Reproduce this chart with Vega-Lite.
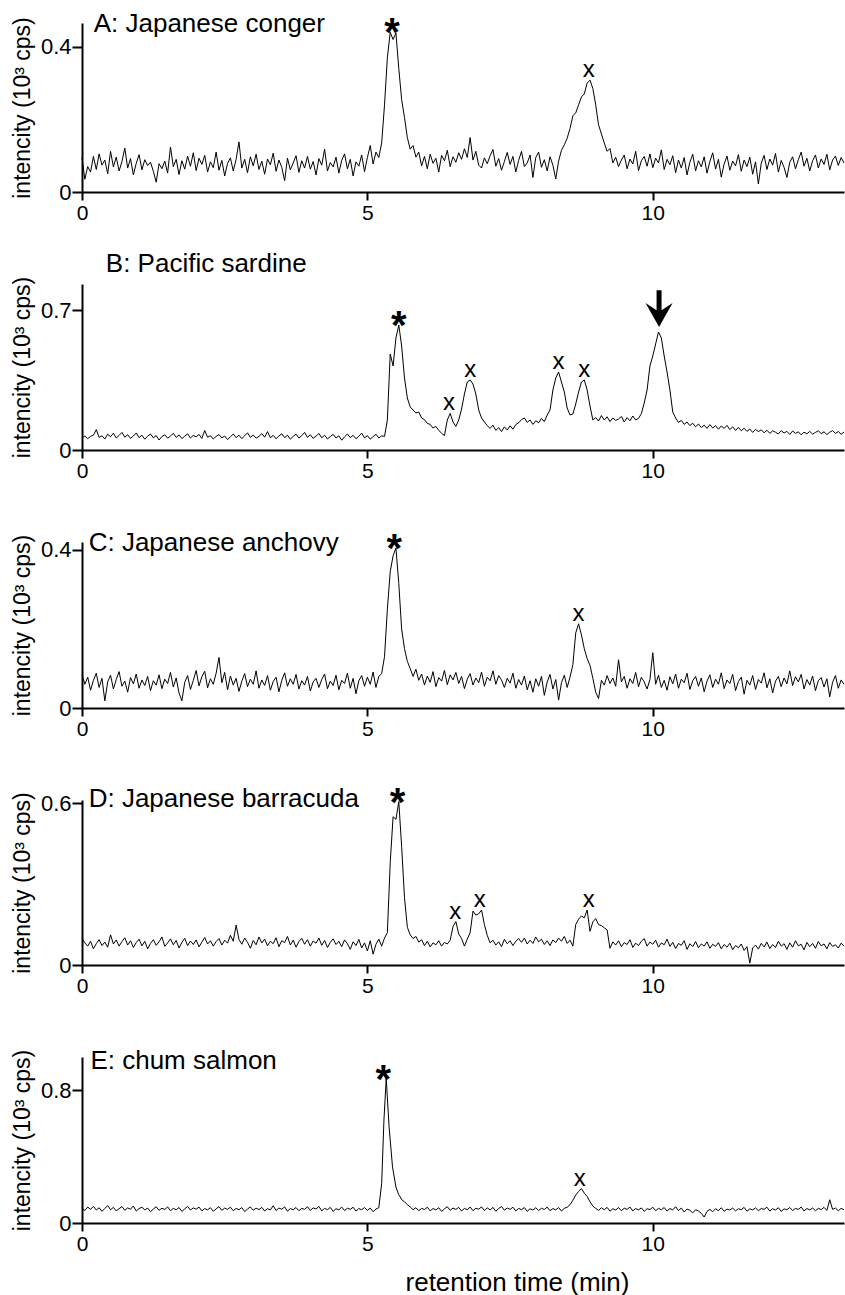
{
"$schema": "https://vega.github.io/schema/vega-lite/v6.json",
"padding": {"left": 11, "top": 11, "right": 0, "bottom": 0},
"bounds": "flush",
"spacing": 92,
"datasets": {
"A": [{"t":0,"v":0.095},{"t":0.05,"v":0.035},{"t":0.1,"v":0.07},{"t":0.15,"v":0.055},{"t":0.2,"v":0.098},{"t":0.25,"v":0.062},{"t":0.3,"v":0.105},{"t":0.35,"v":0.074},{"t":0.4,"v":0.088},{"t":0.45,"v":0.05},{"t":0.5,"v":0.112},{"t":0.55,"v":0.069},{"t":0.6,"v":0.096},{"t":0.65,"v":0.058},{"t":0.7,"v":0.084},{"t":0.75,"v":0.121},{"t":0.8,"v":0.066},{"t":0.85,"v":0.092},{"t":0.9,"v":0.047},{"t":0.95,"v":0.079},{"t":1,"v":0.103},{"t":1.05,"v":0.061},{"t":1.1,"v":0.089},{"t":1.15,"v":0.073},{"t":1.2,"v":0.082},{"t":1.25,"v":0.057},{"t":1.3,"v":0.027},{"t":1.35,"v":0.078},{"t":1.4,"v":0.064},{"t":1.45,"v":0.085},{"t":1.5,"v":0.052},{"t":1.55,"v":0.124},{"t":1.6,"v":0.07},{"t":1.65,"v":0.09},{"t":1.7,"v":0.048},{"t":1.75,"v":0.086},{"t":1.8,"v":0.063},{"t":1.85,"v":0.099},{"t":1.9,"v":0.071},{"t":1.95,"v":0.108},{"t":2,"v":0.059},{"t":2.05,"v":0.093},{"t":2.1,"v":0.076},{"t":2.15,"v":0.101},{"t":2.2,"v":0.055},{"t":2.25,"v":0.083},{"t":2.3,"v":0.067},{"t":2.35,"v":0.11},{"t":2.4,"v":0.06},{"t":2.45,"v":0.087},{"t":2.5,"v":0.044},{"t":2.55,"v":0.079},{"t":2.6,"v":0.094},{"t":2.65,"v":0.058},{"t":2.7,"v":0.09},{"t":2.75,"v":0.138},{"t":2.8,"v":0.066},{"t":2.85,"v":0.09},{"t":2.9,"v":0.053},{"t":2.95,"v":0.097},{"t":3,"v":0.072},{"t":3.05,"v":0.104},{"t":3.1,"v":0.062},{"t":3.15,"v":0.085},{"t":3.2,"v":0.049},{"t":3.25,"v":0.091},{"t":3.3,"v":0.075},{"t":3.35,"v":0.107},{"t":3.4,"v":0.057},{"t":3.45,"v":0.088},{"t":3.5,"v":0.068},{"t":3.55,"v":0.031},{"t":3.6,"v":0.093},{"t":3.65,"v":0.061},{"t":3.7,"v":0.08},{"t":3.75,"v":0.1},{"t":3.8,"v":0.054},{"t":3.85,"v":0.086},{"t":3.9,"v":0.066},{"t":3.95,"v":0.098},{"t":4,"v":0.063},{"t":4.05,"v":0.084},{"t":4.1,"v":0.047},{"t":4.15,"v":0.092},{"t":4.2,"v":0.074},{"t":4.25,"v":0.118},{"t":4.3,"v":0.058},{"t":4.35,"v":0.081},{"t":4.4,"v":0.069},{"t":4.45,"v":0.096},{"t":4.5,"v":0.052},{"t":4.55,"v":0.087},{"t":4.6,"v":0.105},{"t":4.65,"v":0.064},{"t":4.7,"v":0.09},{"t":4.75,"v":0.044},{"t":4.8,"v":0.083},{"t":4.85,"v":0.071},{"t":4.9,"v":0.102},{"t":4.95,"v":0.056},{"t":5,"v":0.095},{"t":5.05,"v":0.128},{"t":5.1,"v":0.077},{"t":5.15,"v":0.11},{"t":5.2,"v":0.095},{"t":5.25,"v":0.135},{"t":5.3,"v":0.24},{"t":5.35,"v":0.37},{"t":5.4,"v":0.44},{"t":5.45,"v":0.42},{"t":5.5,"v":0.438},{"t":5.55,"v":0.34},{"t":5.6,"v":0.255},{"t":5.65,"v":0.205},{"t":5.7,"v":0.15},{"t":5.75,"v":0.118},{"t":5.8,"v":0.128},{"t":5.85,"v":0.096},{"t":5.9,"v":0.11},{"t":5.95,"v":0.072},{"t":6,"v":0.098},{"t":6.05,"v":0.064},{"t":6.1,"v":0.104},{"t":6.15,"v":0.079},{"t":6.2,"v":0.093},{"t":6.25,"v":0.055},{"t":6.3,"v":0.101},{"t":6.35,"v":0.086},{"t":6.4,"v":0.115},{"t":6.45,"v":0.07},{"t":6.5,"v":0.097},{"t":6.55,"v":0.082},{"t":6.6,"v":0.108},{"t":6.65,"v":0.09},{"t":6.7,"v":0.119},{"t":6.75,"v":0.095},{"t":6.8,"v":0.15},{"t":6.85,"v":0.088},{"t":6.9,"v":0.112},{"t":6.95,"v":0.074},{"t":7,"v":0.066},{"t":7.05,"v":0.094},{"t":7.1,"v":0.078},{"t":7.15,"v":0.1},{"t":7.2,"v":0.117},{"t":7.25,"v":0.071},{"t":7.3,"v":0.092},{"t":7.35,"v":0.06},{"t":7.4,"v":0.084},{"t":7.45,"v":0.109},{"t":7.5,"v":0.076},{"t":7.55,"v":0.098},{"t":7.6,"v":0.055},{"t":7.65,"v":0.087},{"t":7.7,"v":0.112},{"t":7.75,"v":0.07},{"t":7.8,"v":0.08},{"t":7.85,"v":0.102},{"t":7.9,"v":0.04},{"t":7.95,"v":0.095},{"t":8,"v":0.11},{"t":8.05,"v":0.068},{"t":8.1,"v":0.089},{"t":8.15,"v":0.058},{"t":8.2,"v":0.097},{"t":8.25,"v":0.074},{"t":8.3,"v":0.036},{"t":8.35,"v":0.085},{"t":8.4,"v":0.115},{"t":8.45,"v":0.13},{"t":8.5,"v":0.148},{"t":8.55,"v":0.175},{"t":8.6,"v":0.21},{"t":8.65,"v":0.218},{"t":8.7,"v":0.24},{"t":8.75,"v":0.262},{"t":8.8,"v":0.27},{"t":8.85,"v":0.3},{"t":8.9,"v":0.308},{"t":8.95,"v":0.285},{"t":9,"v":0.24},{"t":9.05,"v":0.185},{"t":9.1,"v":0.16},{"t":9.15,"v":0.135},{"t":9.2,"v":0.112},{"t":9.25,"v":0.12},{"t":9.3,"v":0.08},{"t":9.35,"v":0.096},{"t":9.4,"v":0.07},{"t":9.45,"v":0.088},{"t":9.5,"v":0.102},{"t":9.55,"v":0.064},{"t":9.6,"v":0.091},{"t":9.65,"v":0.077},{"t":9.7,"v":0.112},{"t":9.75,"v":0.059},{"t":9.8,"v":0.086},{"t":9.85,"v":0.098},{"t":9.9,"v":0.071},{"t":9.95,"v":0.105},{"t":10,"v":0.067},{"t":10.05,"v":0.093},{"t":10.1,"v":0.08},{"t":10.15,"v":0.116},{"t":10.2,"v":0.062},{"t":10.25,"v":0.09},{"t":10.3,"v":0.075},{"t":10.35,"v":0.1},{"t":10.4,"v":0.053},{"t":10.45,"v":0.088},{"t":10.5,"v":0.066},{"t":10.55,"v":0.095},{"t":10.6,"v":0.047},{"t":10.65,"v":0.082},{"t":10.7,"v":0.104},{"t":10.75,"v":0.058},{"t":10.8,"v":0.086},{"t":10.85,"v":0.069},{"t":10.9,"v":0.097},{"t":10.95,"v":0.052},{"t":11,"v":0.084},{"t":11.05,"v":0.108},{"t":11.1,"v":0.063},{"t":11.15,"v":0.09},{"t":11.2,"v":0.041},{"t":11.25,"v":0.077},{"t":11.3,"v":0.099},{"t":11.35,"v":0.06},{"t":11.4,"v":0.085},{"t":11.45,"v":0.072},{"t":11.5,"v":0.103},{"t":11.55,"v":0.057},{"t":11.6,"v":0.088},{"t":11.65,"v":0.07},{"t":11.7,"v":0.096},{"t":11.75,"v":0.049},{"t":11.8,"v":0.083},{"t":11.85,"v":0.022},{"t":11.9,"v":0.079},{"t":11.95,"v":0.101},{"t":12,"v":0.062},{"t":12.05,"v":0.091},{"t":12.1,"v":0.074},{"t":12.15,"v":0.106},{"t":12.2,"v":0.055},{"t":12.25,"v":0.087},{"t":12.3,"v":0.068},{"t":12.35,"v":0.04},{"t":12.4,"v":0.082},{"t":12.45,"v":0.097},{"t":12.5,"v":0.064},{"t":12.55,"v":0.089},{"t":12.6,"v":0.11},{"t":12.65,"v":0.071},{"t":12.7,"v":0.093},{"t":12.75,"v":0.058},{"t":12.8,"v":0.086},{"t":12.85,"v":0.102},{"t":12.9,"v":0.066},{"t":12.95,"v":0.091},{"t":13,"v":0.076},{"t":13.05,"v":0.104},{"t":13.1,"v":0.061},{"t":13.15,"v":0.088},{"t":13.2,"v":0.099},{"t":13.25,"v":0.073},{"t":13.3,"v":0.095},{"t":13.35,"v":0.08}],
"B": [{"t":0,"v":0.062},{"t":0.05,"v":0.07},{"t":0.1,"v":0.057},{"t":0.15,"v":0.068},{"t":0.2,"v":0.074},{"t":0.25,"v":0.102},{"t":0.3,"v":0.063},{"t":0.35,"v":0.071},{"t":0.4,"v":0.055},{"t":0.45,"v":0.079},{"t":0.5,"v":0.066},{"t":0.55,"v":0.084},{"t":0.6,"v":0.06},{"t":0.65,"v":0.073},{"t":0.7,"v":0.088},{"t":0.75,"v":0.064},{"t":0.8,"v":0.077},{"t":0.85,"v":0.058},{"t":0.9,"v":0.07},{"t":0.95,"v":0.085},{"t":1,"v":0.062},{"t":1.05,"v":0.074},{"t":1.1,"v":0.054},{"t":1.15,"v":0.069},{"t":1.2,"v":0.08},{"t":1.25,"v":0.061},{"t":1.3,"v":0.072},{"t":1.35,"v":0.05},{"t":1.4,"v":0.067},{"t":1.45,"v":0.076},{"t":1.5,"v":0.059},{"t":1.55,"v":0.07},{"t":1.6,"v":0.083},{"t":1.65,"v":0.063},{"t":1.7,"v":0.075},{"t":1.75,"v":0.057},{"t":1.8,"v":0.069},{"t":1.85,"v":0.081},{"t":1.9,"v":0.06},{"t":1.95,"v":0.073},{"t":2,"v":0.066},{"t":2.05,"v":0.078},{"t":2.1,"v":0.058},{"t":2.15,"v":0.098},{"t":2.2,"v":0.064},{"t":2.25,"v":0.071},{"t":2.3,"v":0.055},{"t":2.35,"v":0.068},{"t":2.4,"v":0.077},{"t":2.45,"v":0.061},{"t":2.5,"v":0.07},{"t":2.55,"v":0.052},{"t":2.6,"v":0.066},{"t":2.65,"v":0.08},{"t":2.7,"v":0.062},{"t":2.75,"v":0.074},{"t":2.8,"v":0.057},{"t":2.85,"v":0.071},{"t":2.9,"v":0.086},{"t":2.95,"v":0.063},{"t":3,"v":0.075},{"t":3.05,"v":0.059},{"t":3.1,"v":0.068},{"t":3.15,"v":0.082},{"t":3.2,"v":0.064},{"t":3.25,"v":0.092},{"t":3.3,"v":0.061},{"t":3.35,"v":0.073},{"t":3.4,"v":0.056},{"t":3.45,"v":0.07},{"t":3.5,"v":0.081},{"t":3.55,"v":0.062},{"t":3.6,"v":0.074},{"t":3.65,"v":0.054},{"t":3.7,"v":0.068},{"t":3.75,"v":0.079},{"t":3.8,"v":0.06},{"t":3.85,"v":0.072},{"t":3.9,"v":0.088},{"t":3.95,"v":0.063},{"t":4,"v":0.076},{"t":4.05,"v":0.058},{"t":4.1,"v":0.069},{"t":4.15,"v":0.083},{"t":4.2,"v":0.061},{"t":4.25,"v":0.074},{"t":4.3,"v":0.055},{"t":4.35,"v":0.067},{"t":4.4,"v":0.078},{"t":4.45,"v":0.06},{"t":4.5,"v":0.071},{"t":4.55,"v":0.049},{"t":4.6,"v":0.066},{"t":4.65,"v":0.08},{"t":4.7,"v":0.062},{"t":4.75,"v":0.073},{"t":4.8,"v":0.056},{"t":4.85,"v":0.069},{"t":4.9,"v":0.084},{"t":4.95,"v":0.061},{"t":5,"v":0.072},{"t":5.05,"v":0.054},{"t":5.1,"v":0.067},{"t":5.15,"v":0.079},{"t":5.2,"v":0.06},{"t":5.25,"v":0.071},{"t":5.3,"v":0.068},{"t":5.35,"v":0.15},{"t":5.4,"v":0.48},{"t":5.45,"v":0.42},{"t":5.5,"v":0.56},{"t":5.55,"v":0.625},{"t":5.6,"v":0.52},{"t":5.65,"v":0.36},{"t":5.7,"v":0.26},{"t":5.75,"v":0.215},{"t":5.8,"v":0.2},{"t":5.85,"v":0.185},{"t":5.9,"v":0.19},{"t":5.95,"v":0.16},{"t":6,"v":0.152},{"t":6.05,"v":0.133},{"t":6.1,"v":0.128},{"t":6.15,"v":0.11},{"t":6.2,"v":0.118},{"t":6.25,"v":0.098},{"t":6.3,"v":0.084},{"t":6.35,"v":0.072},{"t":6.4,"v":0.15},{"t":6.45,"v":0.183},{"t":6.5,"v":0.14},{"t":6.55,"v":0.118},{"t":6.6,"v":0.15},{"t":6.65,"v":0.205},{"t":6.7,"v":0.28},{"t":6.75,"v":0.34},{"t":6.8,"v":0.35},{"t":6.85,"v":0.33},{"t":6.9,"v":0.28},{"t":6.95,"v":0.2},{"t":7,"v":0.16},{"t":7.05,"v":0.14},{"t":7.1,"v":0.122},{"t":7.15,"v":0.108},{"t":7.2,"v":0.124},{"t":7.25,"v":0.098},{"t":7.3,"v":0.112},{"t":7.35,"v":0.092},{"t":7.4,"v":0.116},{"t":7.45,"v":0.1},{"t":7.5,"v":0.121},{"t":7.55,"v":0.104},{"t":7.6,"v":0.127},{"t":7.65,"v":0.136},{"t":7.7,"v":0.152},{"t":7.75,"v":0.16},{"t":7.8,"v":0.138},{"t":7.85,"v":0.15},{"t":7.9,"v":0.128},{"t":7.95,"v":0.146},{"t":8,"v":0.136},{"t":8.05,"v":0.158},{"t":8.1,"v":0.142},{"t":8.15,"v":0.175},{"t":8.2,"v":0.2},{"t":8.25,"v":0.3},{"t":8.3,"v":0.36},{"t":8.35,"v":0.39},{"t":8.4,"v":0.34},{"t":8.45,"v":0.29},{"t":8.5,"v":0.21},{"t":8.55,"v":0.175},{"t":8.6,"v":0.18},{"t":8.65,"v":0.23},{"t":8.7,"v":0.29},{"t":8.75,"v":0.34},{"t":8.8,"v":0.35},{"t":8.85,"v":0.3},{"t":8.9,"v":0.22},{"t":8.95,"v":0.15},{"t":9,"v":0.162},{"t":9.05,"v":0.145},{"t":9.1,"v":0.172},{"t":9.15,"v":0.15},{"t":9.2,"v":0.166},{"t":9.25,"v":0.142},{"t":9.3,"v":0.16},{"t":9.35,"v":0.148},{"t":9.4,"v":0.155},{"t":9.45,"v":0.168},{"t":9.5,"v":0.14},{"t":9.55,"v":0.162},{"t":9.6,"v":0.146},{"t":9.65,"v":0.17},{"t":9.7,"v":0.15},{"t":9.75,"v":0.158},{"t":9.8,"v":0.182},{"t":9.85,"v":0.235},{"t":9.9,"v":0.3},{"t":9.95,"v":0.42},{"t":10,"v":0.47},{"t":10.05,"v":0.53},{"t":10.1,"v":0.59},{"t":10.15,"v":0.56},{"t":10.2,"v":0.47},{"t":10.25,"v":0.39},{"t":10.3,"v":0.3},{"t":10.35,"v":0.19},{"t":10.4,"v":0.16},{"t":10.45,"v":0.138},{"t":10.5,"v":0.148},{"t":10.55,"v":0.128},{"t":10.6,"v":0.14},{"t":10.65,"v":0.122},{"t":10.7,"v":0.134},{"t":10.75,"v":0.116},{"t":10.8,"v":0.13},{"t":10.85,"v":0.112},{"t":10.9,"v":0.124},{"t":10.95,"v":0.108},{"t":11,"v":0.127},{"t":11.05,"v":0.11},{"t":11.1,"v":0.122},{"t":11.15,"v":0.104},{"t":11.2,"v":0.12},{"t":11.25,"v":0.108},{"t":11.3,"v":0.123},{"t":11.35,"v":0.102},{"t":11.4,"v":0.116},{"t":11.45,"v":0.098},{"t":11.5,"v":0.113},{"t":11.55,"v":0.096},{"t":11.6,"v":0.109},{"t":11.65,"v":0.093},{"t":11.7,"v":0.105},{"t":11.75,"v":0.088},{"t":11.8,"v":0.103},{"t":11.85,"v":0.092},{"t":11.9,"v":0.101},{"t":11.95,"v":0.086},{"t":12,"v":0.099},{"t":12.05,"v":0.083},{"t":12.1,"v":0.096},{"t":12.15,"v":0.089},{"t":12.2,"v":0.08},{"t":12.25,"v":0.097},{"t":12.3,"v":0.085},{"t":12.35,"v":0.093},{"t":12.4,"v":0.078},{"t":12.45,"v":0.095},{"t":12.5,"v":0.083},{"t":12.55,"v":0.091},{"t":12.6,"v":0.076},{"t":12.65,"v":0.089},{"t":12.7,"v":0.081},{"t":12.75,"v":0.093},{"t":12.8,"v":0.079},{"t":12.85,"v":0.088},{"t":12.9,"v":0.096},{"t":12.95,"v":0.082},{"t":13,"v":0.091},{"t":13.05,"v":0.077},{"t":13.1,"v":0.089},{"t":13.15,"v":0.097},{"t":13.2,"v":0.083},{"t":13.25,"v":0.092},{"t":13.3,"v":0.079},{"t":13.35,"v":0.09}],
"C": [{"t":0,"v":0.085},{"t":0.05,"v":0.06},{"t":0.1,"v":0.078},{"t":0.15,"v":0.045},{"t":0.2,"v":0.07},{"t":0.25,"v":0.088},{"t":0.3,"v":0.052},{"t":0.35,"v":0.075},{"t":0.4,"v":0.018},{"t":0.45,"v":0.066},{"t":0.5,"v":0.083},{"t":0.55,"v":0.048},{"t":0.6,"v":0.072},{"t":0.65,"v":0.092},{"t":0.7,"v":0.055},{"t":0.75,"v":0.068},{"t":0.8,"v":0.04},{"t":0.85,"v":0.077},{"t":0.9,"v":0.061},{"t":0.95,"v":0.086},{"t":1,"v":0.05},{"t":1.05,"v":0.071},{"t":1.1,"v":0.057},{"t":1.15,"v":0.08},{"t":1.2,"v":0.044},{"t":1.25,"v":0.069},{"t":1.3,"v":0.058},{"t":1.35,"v":0.084},{"t":1.4,"v":0.049},{"t":1.45,"v":0.073},{"t":1.5,"v":0.062},{"t":1.55,"v":0.09},{"t":1.6,"v":0.053},{"t":1.65,"v":0.076},{"t":1.7,"v":0.038},{"t":1.75,"v":0.018},{"t":1.8,"v":0.065},{"t":1.85,"v":0.082},{"t":1.9,"v":0.047},{"t":1.95,"v":0.07},{"t":2,"v":0.095},{"t":2.05,"v":0.056},{"t":2.1,"v":0.079},{"t":2.15,"v":0.093},{"t":2.2,"v":0.051},{"t":2.25,"v":0.074},{"t":2.3,"v":0.06},{"t":2.35,"v":0.088},{"t":2.4,"v":0.128},{"t":2.45,"v":0.064},{"t":2.5,"v":0.09},{"t":2.55,"v":0.046},{"t":2.6,"v":0.081},{"t":2.65,"v":0.058},{"t":2.7,"v":0.075},{"t":2.75,"v":0.042},{"t":2.8,"v":0.068},{"t":2.85,"v":0.087},{"t":2.9,"v":0.054},{"t":2.95,"v":0.073},{"t":3,"v":0.06},{"t":3.05,"v":0.094},{"t":3.1,"v":0.05},{"t":3.15,"v":0.071},{"t":3.2,"v":0.057},{"t":3.25,"v":0.082},{"t":3.3,"v":0.045},{"t":3.35,"v":0.067},{"t":3.4,"v":0.078},{"t":3.45,"v":0.041},{"t":3.5,"v":0.07},{"t":3.55,"v":0.089},{"t":3.6,"v":0.055},{"t":3.65,"v":0.074},{"t":3.7,"v":0.06},{"t":3.75,"v":0.085},{"t":3.8,"v":0.048},{"t":3.85,"v":0.069},{"t":3.9,"v":0.058},{"t":3.95,"v":0.08},{"t":4,"v":0.043},{"t":4.05,"v":0.066},{"t":4.1,"v":0.075},{"t":4.15,"v":0.052},{"t":4.2,"v":0.072},{"t":4.25,"v":0.086},{"t":4.3,"v":0.049},{"t":4.35,"v":0.068},{"t":4.4,"v":0.057},{"t":4.45,"v":0.083},{"t":4.5,"v":0.046},{"t":4.55,"v":0.07},{"t":4.6,"v":0.062},{"t":4.65,"v":0.088},{"t":4.7,"v":0.05},{"t":4.75,"v":0.075},{"t":4.8,"v":0.036},{"t":4.85,"v":0.069},{"t":4.9,"v":0.082},{"t":4.95,"v":0.055},{"t":5,"v":0.078},{"t":5.05,"v":0.06},{"t":5.1,"v":0.091},{"t":5.15,"v":0.052},{"t":5.2,"v":0.08},{"t":5.25,"v":0.087},{"t":5.3,"v":0.13},{"t":5.35,"v":0.25},{"t":5.4,"v":0.345},{"t":5.45,"v":0.385},{"t":5.5,"v":0.405},{"t":5.55,"v":0.315},{"t":5.6,"v":0.2},{"t":5.65,"v":0.15},{"t":5.7,"v":0.118},{"t":5.75,"v":0.1},{"t":5.8,"v":0.08},{"t":5.85,"v":0.098},{"t":5.9,"v":0.07},{"t":5.95,"v":0.086},{"t":6,"v":0.058},{"t":6.05,"v":0.081},{"t":6.1,"v":0.065},{"t":6.15,"v":0.092},{"t":6.2,"v":0.054},{"t":6.25,"v":0.077},{"t":6.3,"v":0.068},{"t":6.35,"v":0.095},{"t":6.4,"v":0.059},{"t":6.45,"v":0.084},{"t":6.5,"v":0.071},{"t":6.55,"v":0.09},{"t":6.6,"v":0.062},{"t":6.65,"v":0.08},{"t":6.7,"v":0.049},{"t":6.75,"v":0.073},{"t":6.8,"v":0.087},{"t":6.85,"v":0.058},{"t":6.9,"v":0.076},{"t":6.95,"v":0.064},{"t":7,"v":0.091},{"t":7.05,"v":0.055},{"t":7.1,"v":0.078},{"t":7.15,"v":0.069},{"t":7.2,"v":0.094},{"t":7.25,"v":0.06},{"t":7.3,"v":0.082},{"t":7.35,"v":0.071},{"t":7.4,"v":0.052},{"t":7.45,"v":0.075},{"t":7.5,"v":0.063},{"t":7.55,"v":0.088},{"t":7.6,"v":0.05},{"t":7.65,"v":0.072},{"t":7.7,"v":0.058},{"t":7.75,"v":0.081},{"t":7.8,"v":0.046},{"t":7.85,"v":0.069},{"t":7.9,"v":0.04},{"t":7.95,"v":0.074},{"t":8,"v":0.055},{"t":8.05,"v":0.08},{"t":8.1,"v":0.032},{"t":8.15,"v":0.066},{"t":8.2,"v":0.085},{"t":8.25,"v":0.048},{"t":8.3,"v":0.072},{"t":8.35,"v":0.02},{"t":8.4,"v":0.064},{"t":8.45,"v":0.083},{"t":8.5,"v":0.052},{"t":8.55,"v":0.078},{"t":8.6,"v":0.11},{"t":8.65,"v":0.19},{"t":8.7,"v":0.213},{"t":8.75,"v":0.185},{"t":8.8,"v":0.15},{"t":8.85,"v":0.125},{"t":8.9,"v":0.108},{"t":8.95,"v":0.075},{"t":9,"v":0.04},{"t":9.05,"v":0.024},{"t":9.1,"v":0.07},{"t":9.15,"v":0.058},{"t":9.2,"v":0.082},{"t":9.25,"v":0.062},{"t":9.3,"v":0.076},{"t":9.35,"v":0.055},{"t":9.4,"v":0.122},{"t":9.45,"v":0.066},{"t":9.5,"v":0.08},{"t":9.55,"v":0.05},{"t":9.6,"v":0.074},{"t":9.65,"v":0.062},{"t":9.7,"v":0.09},{"t":9.75,"v":0.054},{"t":9.8,"v":0.078},{"t":9.85,"v":0.066},{"t":9.9,"v":0.048},{"t":9.95,"v":0.072},{"t":10,"v":0.14},{"t":10.05,"v":0.06},{"t":10.1,"v":0.083},{"t":10.15,"v":0.052},{"t":10.2,"v":0.07},{"t":10.25,"v":0.045},{"t":10.3,"v":0.079},{"t":10.35,"v":0.061},{"t":10.4,"v":0.086},{"t":10.45,"v":0.05},{"t":10.5,"v":0.073},{"t":10.55,"v":0.064},{"t":10.6,"v":0.088},{"t":10.65,"v":0.047},{"t":10.7,"v":0.069},{"t":10.75,"v":0.08},{"t":10.8,"v":0.055},{"t":10.85,"v":0.076},{"t":10.9,"v":0.041},{"t":10.95,"v":0.068},{"t":11,"v":0.084},{"t":11.05,"v":0.052},{"t":11.1,"v":0.073},{"t":11.15,"v":0.06},{"t":11.2,"v":0.089},{"t":11.25,"v":0.049},{"t":11.3,"v":0.071},{"t":11.35,"v":0.062},{"t":11.4,"v":0.085},{"t":11.45,"v":0.044},{"t":11.5,"v":0.067},{"t":11.55,"v":0.078},{"t":11.6,"v":0.035},{"t":11.65,"v":0.07},{"t":11.7,"v":0.058},{"t":11.75,"v":0.082},{"t":11.8,"v":0.047},{"t":11.85,"v":0.072},{"t":11.9,"v":0.063},{"t":11.95,"v":0.089},{"t":12,"v":0.051},{"t":12.05,"v":0.074},{"t":12.1,"v":0.038},{"t":12.15,"v":0.068},{"t":12.2,"v":0.08},{"t":12.25,"v":0.054},{"t":12.3,"v":0.076},{"t":12.35,"v":0.061},{"t":12.4,"v":0.094},{"t":12.45,"v":0.057},{"t":12.5,"v":0.079},{"t":12.55,"v":0.066},{"t":12.6,"v":0.085},{"t":12.65,"v":0.048},{"t":12.7,"v":0.072},{"t":12.75,"v":0.058},{"t":12.8,"v":0.081},{"t":12.85,"v":0.044},{"t":12.9,"v":0.069},{"t":12.95,"v":0.077},{"t":13,"v":0.053},{"t":13.05,"v":0.074},{"t":13.1,"v":0.028},{"t":13.15,"v":0.065},{"t":13.2,"v":0.082},{"t":13.25,"v":0.05},{"t":13.3,"v":0.071},{"t":13.35,"v":0.06}],
"D": [{"t":0,"v":0.1},{"t":0.05,"v":0.082},{"t":0.1,"v":0.07},{"t":0.15,"v":0.088},{"t":0.2,"v":0.06},{"t":0.25,"v":0.079},{"t":0.3,"v":0.094},{"t":0.35,"v":0.072},{"t":0.4,"v":0.085},{"t":0.45,"v":0.066},{"t":0.5,"v":0.112},{"t":0.55,"v":0.078},{"t":0.6,"v":0.093},{"t":0.65,"v":0.07},{"t":0.7,"v":0.087},{"t":0.75,"v":0.101},{"t":0.8,"v":0.074},{"t":0.85,"v":0.09},{"t":0.9,"v":0.065},{"t":0.95,"v":0.083},{"t":1,"v":0.096},{"t":1.05,"v":0.071},{"t":1.1,"v":0.088},{"t":1.15,"v":0.06},{"t":1.2,"v":0.08},{"t":1.25,"v":0.094},{"t":1.3,"v":0.073},{"t":1.35,"v":0.086},{"t":1.4,"v":0.104},{"t":1.45,"v":0.069},{"t":1.5,"v":0.082},{"t":1.55,"v":0.097},{"t":1.6,"v":0.075},{"t":1.65,"v":0.091},{"t":1.7,"v":0.063},{"t":1.75,"v":0.084},{"t":1.8,"v":0.099},{"t":1.85,"v":0.072},{"t":1.9,"v":0.089},{"t":1.95,"v":0.076},{"t":2,"v":0.093},{"t":2.05,"v":0.067},{"t":2.1,"v":0.085},{"t":2.15,"v":0.102},{"t":2.2,"v":0.078},{"t":2.25,"v":0.09},{"t":2.3,"v":0.07},{"t":2.35,"v":0.087},{"t":2.4,"v":0.098},{"t":2.45,"v":0.074},{"t":2.5,"v":0.092},{"t":2.55,"v":0.081},{"t":2.6,"v":0.11},{"t":2.65,"v":0.088},{"t":2.7,"v":0.148},{"t":2.75,"v":0.095},{"t":2.8,"v":0.077},{"t":2.85,"v":0.1},{"t":2.9,"v":0.084},{"t":2.95,"v":0.062},{"t":3,"v":0.091},{"t":3.05,"v":0.075},{"t":3.1,"v":0.104},{"t":3.15,"v":0.082},{"t":3.2,"v":0.096},{"t":3.25,"v":0.071},{"t":3.3,"v":0.088},{"t":3.35,"v":0.079},{"t":3.4,"v":0.101},{"t":3.45,"v":0.068},{"t":3.5,"v":0.09},{"t":3.55,"v":0.083},{"t":3.6,"v":0.106},{"t":3.65,"v":0.074},{"t":3.7,"v":0.092},{"t":3.75,"v":0.066},{"t":3.8,"v":0.087},{"t":3.85,"v":0.099},{"t":3.9,"v":0.077},{"t":3.95,"v":0.094},{"t":4,"v":0.07},{"t":4.05,"v":0.089},{"t":4.1,"v":0.081},{"t":4.15,"v":0.1},{"t":4.2,"v":0.073},{"t":4.25,"v":0.091},{"t":4.3,"v":0.065},{"t":4.35,"v":0.084},{"t":4.4,"v":0.097},{"t":4.45,"v":0.076},{"t":4.5,"v":0.088},{"t":4.55,"v":0.068},{"t":4.6,"v":0.093},{"t":4.65,"v":0.079},{"t":4.7,"v":0.058},{"t":4.75,"v":0.086},{"t":4.8,"v":0.072},{"t":4.85,"v":0.095},{"t":4.9,"v":0.063},{"t":4.95,"v":0.082},{"t":5,"v":0.052},{"t":5.05,"v":0.09},{"t":5.1,"v":0.04},{"t":5.15,"v":0.077},{"t":5.2,"v":0.096},{"t":5.25,"v":0.07},{"t":5.3,"v":0.1},{"t":5.35,"v":0.12},{"t":5.4,"v":0.38},{"t":5.45,"v":0.55},{"t":5.5,"v":0.54},{"t":5.55,"v":0.606},{"t":5.6,"v":0.44},{"t":5.65,"v":0.25},{"t":5.7,"v":0.14},{"t":5.75,"v":0.112},{"t":5.8,"v":0.098},{"t":5.85,"v":0.106},{"t":5.9,"v":0.085},{"t":5.95,"v":0.094},{"t":6,"v":0.072},{"t":6.05,"v":0.088},{"t":6.1,"v":0.067},{"t":6.15,"v":0.082},{"t":6.2,"v":0.075},{"t":6.25,"v":0.09},{"t":6.3,"v":0.07},{"t":6.35,"v":0.084},{"t":6.4,"v":0.078},{"t":6.45,"v":0.092},{"t":6.5,"v":0.142},{"t":6.55,"v":0.161},{"t":6.6,"v":0.115},{"t":6.65,"v":0.098},{"t":6.7,"v":0.07},{"t":6.75,"v":0.096},{"t":6.8,"v":0.12},{"t":6.85,"v":0.2},{"t":6.9,"v":0.185},{"t":6.95,"v":0.19},{"t":7,"v":0.204},{"t":7.05,"v":0.15},{"t":7.1,"v":0.11},{"t":7.15,"v":0.082},{"t":7.2,"v":0.092},{"t":7.25,"v":0.074},{"t":7.3,"v":0.086},{"t":7.35,"v":0.068},{"t":7.4,"v":0.095},{"t":7.45,"v":0.079},{"t":7.5,"v":0.09},{"t":7.55,"v":0.072},{"t":7.6,"v":0.088},{"t":7.65,"v":0.098},{"t":7.7,"v":0.084},{"t":7.75,"v":0.1},{"t":7.8,"v":0.078},{"t":7.85,"v":0.092},{"t":7.9,"v":0.08},{"t":7.95,"v":0.104},{"t":8,"v":0.086},{"t":8.05,"v":0.096},{"t":8.1,"v":0.076},{"t":8.15,"v":0.09},{"t":8.2,"v":0.072},{"t":8.25,"v":0.093},{"t":8.3,"v":0.083},{"t":8.35,"v":0.1},{"t":8.4,"v":0.088},{"t":8.45,"v":0.106},{"t":8.5,"v":0.08},{"t":8.55,"v":0.092},{"t":8.6,"v":0.07},{"t":8.65,"v":0.15},{"t":8.7,"v":0.17},{"t":8.75,"v":0.182},{"t":8.8,"v":0.175},{"t":8.85,"v":0.204},{"t":8.9,"v":0.125},{"t":8.95,"v":0.16},{"t":9,"v":0.172},{"t":9.05,"v":0.15},{"t":9.1,"v":0.146},{"t":9.15,"v":0.138},{"t":9.2,"v":0.13},{"t":9.25,"v":0.062},{"t":9.3,"v":0.086},{"t":9.35,"v":0.074},{"t":9.4,"v":0.09},{"t":9.45,"v":0.068},{"t":9.5,"v":0.083},{"t":9.55,"v":0.076},{"t":9.6,"v":0.094},{"t":9.65,"v":0.065},{"t":9.7,"v":0.081},{"t":9.75,"v":0.072},{"t":9.8,"v":0.088},{"t":9.85,"v":0.098},{"t":9.9,"v":0.07},{"t":9.95,"v":0.085},{"t":10,"v":0.077},{"t":10.05,"v":0.092},{"t":10.1,"v":0.066},{"t":10.15,"v":0.082},{"t":10.2,"v":0.075},{"t":10.25,"v":0.096},{"t":10.3,"v":0.069},{"t":10.35,"v":0.084},{"t":10.4,"v":0.061},{"t":10.45,"v":0.08},{"t":10.5,"v":0.073},{"t":10.55,"v":0.09},{"t":10.6,"v":0.058},{"t":10.65,"v":0.079},{"t":10.7,"v":0.068},{"t":10.75,"v":0.087},{"t":10.8,"v":0.064},{"t":10.85,"v":0.078},{"t":10.9,"v":0.07},{"t":10.95,"v":0.086},{"t":11,"v":0.062},{"t":11.05,"v":0.077},{"t":11.1,"v":0.069},{"t":11.15,"v":0.083},{"t":11.2,"v":0.06},{"t":11.25,"v":0.076},{"t":11.3,"v":0.066},{"t":11.35,"v":0.081},{"t":11.4,"v":0.057},{"t":11.45,"v":0.072},{"t":11.5,"v":0.064},{"t":11.55,"v":0.078},{"t":11.6,"v":0.054},{"t":11.65,"v":0.068},{"t":11.7,"v":0.007},{"t":11.75,"v":0.063},{"t":11.8,"v":0.074},{"t":11.85,"v":0.059},{"t":11.9,"v":0.08},{"t":11.95,"v":0.067},{"t":12,"v":0.085},{"t":12.05,"v":0.061},{"t":12.1,"v":0.076},{"t":12.15,"v":0.065},{"t":12.2,"v":0.088},{"t":12.25,"v":0.07},{"t":12.3,"v":0.079},{"t":12.35,"v":0.058},{"t":12.4,"v":0.082},{"t":12.45,"v":0.066},{"t":12.5,"v":0.09},{"t":12.55,"v":0.071},{"t":12.6,"v":0.077},{"t":12.65,"v":0.056},{"t":12.7,"v":0.084},{"t":12.75,"v":0.068},{"t":12.8,"v":0.08},{"t":12.85,"v":0.062},{"t":12.9,"v":0.087},{"t":12.95,"v":0.071},{"t":13,"v":0.078},{"t":13.05,"v":0.06},{"t":13.1,"v":0.083},{"t":13.15,"v":0.069},{"t":13.2,"v":0.075},{"t":13.25,"v":0.063},{"t":13.3,"v":0.081},{"t":13.35,"v":0.07}],
"E": [{"t":0,"v":0.09},{"t":0.05,"v":0.075},{"t":0.1,"v":0.096},{"t":0.15,"v":0.082},{"t":0.2,"v":0.1},{"t":0.25,"v":0.078},{"t":0.3,"v":0.092},{"t":0.35,"v":0.07},{"t":0.4,"v":0.088},{"t":0.45,"v":0.105},{"t":0.5,"v":0.08},{"t":0.55,"v":0.094},{"t":0.6,"v":0.073},{"t":0.65,"v":0.086},{"t":0.7,"v":0.099},{"t":0.75,"v":0.077},{"t":0.8,"v":0.091},{"t":0.85,"v":0.083},{"t":0.9,"v":0.102},{"t":0.95,"v":0.072},{"t":1,"v":0.087},{"t":1.05,"v":0.095},{"t":1.1,"v":0.079},{"t":1.15,"v":0.09},{"t":1.2,"v":0.068},{"t":1.25,"v":0.084},{"t":1.3,"v":0.098},{"t":1.35,"v":0.076},{"t":1.4,"v":0.089},{"t":1.45,"v":0.081},{"t":1.5,"v":0.097},{"t":1.55,"v":0.074},{"t":1.6,"v":0.088},{"t":1.65,"v":0.08},{"t":1.7,"v":0.093},{"t":1.75,"v":0.07},{"t":1.8,"v":0.085},{"t":1.85,"v":0.1},{"t":1.9,"v":0.078},{"t":1.95,"v":0.091},{"t":2,"v":0.083},{"t":2.05,"v":0.096},{"t":2.1,"v":0.073},{"t":2.15,"v":0.087},{"t":2.2,"v":0.079},{"t":2.25,"v":0.092},{"t":2.3,"v":0.071},{"t":2.35,"v":0.085},{"t":2.4,"v":0.099},{"t":2.45,"v":0.076},{"t":2.5,"v":0.09},{"t":2.55,"v":0.082},{"t":2.6,"v":0.095},{"t":2.65,"v":0.074},{"t":2.7,"v":0.088},{"t":2.75,"v":0.08},{"t":2.8,"v":0.093},{"t":2.85,"v":0.069},{"t":2.9,"v":0.084},{"t":2.95,"v":0.097},{"t":3,"v":0.077},{"t":3.05,"v":0.089},{"t":3.1,"v":0.081},{"t":3.15,"v":0.094},{"t":3.2,"v":0.072},{"t":3.25,"v":0.086},{"t":3.3,"v":0.079},{"t":3.35,"v":0.104},{"t":3.4,"v":0.075},{"t":3.45,"v":0.09},{"t":3.5,"v":0.083},{"t":3.55,"v":0.097},{"t":3.6,"v":0.071},{"t":3.65,"v":0.087},{"t":3.7,"v":0.08},{"t":3.75,"v":0.093},{"t":3.8,"v":0.074},{"t":3.85,"v":0.088},{"t":3.9,"v":0.082},{"t":3.95,"v":0.098},{"t":4,"v":0.076},{"t":4.05,"v":0.091},{"t":4.1,"v":0.084},{"t":4.15,"v":0.1},{"t":4.2,"v":0.073},{"t":4.25,"v":0.088},{"t":4.3,"v":0.08},{"t":4.35,"v":0.094},{"t":4.4,"v":0.07},{"t":4.45,"v":0.086},{"t":4.5,"v":0.079},{"t":4.55,"v":0.096},{"t":4.6,"v":0.075},{"t":4.65,"v":0.089},{"t":4.7,"v":0.082},{"t":4.75,"v":0.095},{"t":4.8,"v":0.072},{"t":4.85,"v":0.087},{"t":4.9,"v":0.08},{"t":4.95,"v":0.093},{"t":5,"v":0.076},{"t":5.05,"v":0.09},{"t":5.1,"v":0.068},{"t":5.15,"v":0.084},{"t":5.2,"v":0.092},{"t":5.25,"v":0.237},{"t":5.29,"v":0.62},{"t":5.33,"v":0.87},{"t":5.38,"v":0.58},{"t":5.44,"v":0.338},{"t":5.5,"v":0.217},{"t":5.55,"v":0.17},{"t":5.61,"v":0.137},{"t":5.65,"v":0.128},{"t":5.7,"v":0.11},{"t":5.75,"v":0.097},{"t":5.8,"v":0.08},{"t":5.85,"v":0.092},{"t":5.9,"v":0.074},{"t":5.95,"v":0.088},{"t":6,"v":0.081},{"t":6.05,"v":0.095},{"t":6.1,"v":0.073},{"t":6.15,"v":0.087},{"t":6.2,"v":0.079},{"t":6.25,"v":0.092},{"t":6.3,"v":0.07},{"t":6.35,"v":0.085},{"t":6.4,"v":0.098},{"t":6.45,"v":0.076},{"t":6.5,"v":0.09},{"t":6.55,"v":0.082},{"t":6.6,"v":0.094},{"t":6.65,"v":0.072},{"t":6.7,"v":0.088},{"t":6.75,"v":0.08},{"t":6.8,"v":0.096},{"t":6.85,"v":0.074},{"t":6.9,"v":0.089},{"t":6.95,"v":0.083},{"t":7,"v":0.097},{"t":7.05,"v":0.075},{"t":7.1,"v":0.091},{"t":7.15,"v":0.079},{"t":7.2,"v":0.094},{"t":7.25,"v":0.071},{"t":7.3,"v":0.087},{"t":7.35,"v":0.099},{"t":7.4,"v":0.077},{"t":7.45,"v":0.09},{"t":7.5,"v":0.082},{"t":7.55,"v":0.095},{"t":7.6,"v":0.073},{"t":7.65,"v":0.088},{"t":7.7,"v":0.08},{"t":7.75,"v":0.093},{"t":7.8,"v":0.07},{"t":7.85,"v":0.086},{"t":7.9,"v":0.078},{"t":7.95,"v":0.092},{"t":8,"v":0.075},{"t":8.05,"v":0.089},{"t":8.1,"v":0.081},{"t":8.15,"v":0.096},{"t":8.2,"v":0.074},{"t":8.25,"v":0.087},{"t":8.3,"v":0.079},{"t":8.35,"v":0.093},{"t":8.4,"v":0.072},{"t":8.45,"v":0.088},{"t":8.5,"v":0.095},{"t":8.55,"v":0.11},{"t":8.6,"v":0.137},{"t":8.65,"v":0.168},{"t":8.7,"v":0.19},{"t":8.75,"v":0.207},{"t":8.8,"v":0.18},{"t":8.85,"v":0.16},{"t":8.9,"v":0.128},{"t":8.95,"v":0.102},{"t":9,"v":0.088},{"t":9.05,"v":0.076},{"t":9.1,"v":0.092},{"t":9.15,"v":0.08},{"t":9.2,"v":0.094},{"t":9.25,"v":0.071},{"t":9.3,"v":0.086},{"t":9.35,"v":0.078},{"t":9.4,"v":0.093},{"t":9.45,"v":0.074},{"t":9.5,"v":0.089},{"t":9.55,"v":0.082},{"t":9.6,"v":0.096},{"t":9.65,"v":0.073},{"t":9.7,"v":0.087},{"t":9.75,"v":0.079},{"t":9.8,"v":0.091},{"t":9.85,"v":0.07},{"t":9.9,"v":0.086},{"t":9.95,"v":0.081},{"t":10,"v":0.095},{"t":10.05,"v":0.074},{"t":10.1,"v":0.088},{"t":10.15,"v":0.08},{"t":10.2,"v":0.093},{"t":10.25,"v":0.072},{"t":10.3,"v":0.087},{"t":10.35,"v":0.079},{"t":10.4,"v":0.098},{"t":10.45,"v":0.075},{"t":10.5,"v":0.09},{"t":10.55,"v":0.066},{"t":10.6,"v":0.084},{"t":10.65,"v":0.077},{"t":10.7,"v":0.061},{"t":10.75,"v":0.08},{"t":10.8,"v":0.072},{"t":10.85,"v":0.058},{"t":10.9,"v":0.036},{"t":10.95,"v":0.07},{"t":11,"v":0.082},{"t":11.05,"v":0.068},{"t":11.1,"v":0.086},{"t":11.15,"v":0.074},{"t":11.2,"v":0.092},{"t":11.25,"v":0.07},{"t":11.3,"v":0.084},{"t":11.35,"v":0.078},{"t":11.4,"v":0.09},{"t":11.45,"v":0.073},{"t":11.5,"v":0.086},{"t":11.55,"v":0.08},{"t":11.6,"v":0.094},{"t":11.65,"v":0.071},{"t":11.7,"v":0.085},{"t":11.75,"v":0.079},{"t":11.8,"v":0.091},{"t":11.85,"v":0.074},{"t":11.9,"v":0.087},{"t":11.95,"v":0.082},{"t":12,"v":0.095},{"t":12.05,"v":0.072},{"t":12.1,"v":0.086},{"t":12.15,"v":0.078},{"t":12.2,"v":0.092},{"t":12.25,"v":0.07},{"t":12.3,"v":0.085},{"t":12.35,"v":0.08},{"t":12.4,"v":0.093},{"t":12.45,"v":0.075},{"t":12.5,"v":0.088},{"t":12.55,"v":0.082},{"t":12.6,"v":0.096},{"t":12.65,"v":0.073},{"t":12.7,"v":0.087},{"t":12.75,"v":0.079},{"t":12.8,"v":0.09},{"t":12.85,"v":0.074},{"t":12.9,"v":0.088},{"t":12.95,"v":0.081},{"t":13,"v":0.094},{"t":13.05,"v":0.076},{"t":13.1,"v":0.14},{"t":13.15,"v":0.082},{"t":13.2,"v":0.09},{"t":13.25,"v":0.074},{"t":13.3,"v":0.088},{"t":13.35,"v":0.08}],
"ann": [
{"p":"A","s":"*","t":5.43,"v":0.44},{"p":"A","s":"x","t":8.88,"v":0.308},
{"p":"B","s":"*","t":5.55,"v":0.625},{"p":"B","s":"x","t":6.43,"v":0.183},{"p":"B","s":"x","t":6.8,"v":0.35},{"p":"B","s":"x","t":8.35,"v":0.39},{"p":"B","s":"x","t":8.8,"v":0.35},{"p":"B","s":"arrow","t":10.11,"v":0.59},
{"p":"C","s":"*","t":5.47,"v":0.405},{"p":"C","s":"x","t":8.7,"v":0.213},
{"p":"D","s":"*","t":5.53,"v":0.606},{"p":"D","s":"x","t":6.54,"v":0.161},{"p":"D","s":"x","t":6.97,"v":0.204},{"p":"D","s":"x","t":8.88,"v":0.204},
{"p":"E","s":"*","t":5.28,"v":0.87},{"p":"E","s":"x","t":8.72,"v":0.207}
]
},
"vconcat": [
{
 "width": 762, "height": 169,
 "layer": [
  {
   "encoding": {
    "x": {"field": "t", "type": "quantitative", "scale": {"domain": [0, 13.35], "nice": false}, "axis": {"values": [0, 5, 10], "format": "~g", "title": null}},
    "y": {"field": "v", "type": "quantitative", "scale": {"domain": [0, 0.4655], "nice": false}, "axis": {"values": [0, 0.4], "format": "~g", "title": "intencity (10³ cps)"}}
   },
   "layer": [
    {"data": {"name": "A"}, "mark": {"type": "line"}},
    {"data": {"name": "ann"}, "transform": [{"filter": "datum.p == 'A' && datum.s == '*'"}], "mark": {"type": "text", "fontSize": 40, "fontWeight": "bold", "baseline": "alphabetic", "dy": 14}, "encoding": {"text": {"field": "s"}}},
    {"data": {"name": "ann"}, "transform": [{"filter": "datum.p == 'A' && datum.s == 'x'"}], "mark": {"type": "text", "fontSize": 24, "baseline": "alphabetic", "dy": -3}, "encoding": {"text": {"field": "s"}}}
   ]
  },
  {"data": {"values": [{}]}, "mark": {"type": "text", "text": "A: Japanese conger", "fontSize": 26, "align": "left", "baseline": "alphabetic"}, "encoding": {"x": {"datum": 0.205, "axis": {"format": "~g"}}, "y": {"datum": 0.44}}}
 ]
},
{
 "width": 762, "height": 166,
 "layer": [
  {
   "encoding": {
    "x": {"field": "t", "type": "quantitative", "scale": {"domain": [0, 13.35], "nice": false}, "axis": {"values": [0, 5, 10], "format": "~g", "title": null}},
    "y": {"field": "v", "type": "quantitative", "scale": {"domain": [0, 0.83], "nice": false}, "axis": {"values": [0, 0.7], "format": "~g", "title": "intencity (10³ cps)"}}
   },
   "layer": [
    {"data": {"name": "B"}, "mark": {"type": "line"}},
    {"data": {"name": "ann"}, "transform": [{"filter": "datum.p == 'B' && datum.s == '*'"}], "mark": {"type": "text", "fontSize": 40, "fontWeight": "bold", "baseline": "alphabetic", "dy": 14}, "encoding": {"text": {"field": "s"}}},
    {"data": {"name": "ann"}, "transform": [{"filter": "datum.p == 'B' && datum.s == 'x'"}], "mark": {"type": "text", "fontSize": 24, "baseline": "alphabetic", "dy": -3}, "encoding": {"text": {"field": "s"}}},
    {"data": {"name": "ann"}, "transform": [{"filter": "datum.s == 'arrow'"}], "mark": {"type": "point", "shape": "M-0.136,-2.27L0.136,-2.27L0.136,-1.18L0.736,-1.58L0,-0.27L-0.736,-1.58L-0.136,-1.18Z", "size": 1347, "filled": true, "color": "#000", "opacity": 1}}
   ]
  },
  {"data": {"values": [{}]}, "mark": {"type": "text", "text": "B: Pacific sardine", "fontSize": 26, "align": "left", "baseline": "alphabetic"}, "encoding": {"x": {"datum": 0.417, "axis": {"format": "~g"}}, "y": {"datum": 0.8915}}}
 ]
},
{
 "width": 762, "height": 166,
 "layer": [
  {
   "encoding": {
    "x": {"field": "t", "type": "quantitative", "scale": {"domain": [0, 13.35], "nice": false}, "axis": {"values": [0, 5, 10], "format": "~g", "title": null}},
    "y": {"field": "v", "type": "quantitative", "scale": {"domain": [0, 0.42], "nice": false}, "axis": {"values": [0, 0.4], "format": "~g", "title": "intencity (10³ cps)"}}
   },
   "layer": [
    {"data": {"name": "C"}, "mark": {"type": "line"}},
    {"data": {"name": "ann"}, "transform": [{"filter": "datum.p == 'C' && datum.s == '*'"}], "mark": {"type": "text", "fontSize": 40, "fontWeight": "bold", "baseline": "alphabetic", "dy": 14}, "encoding": {"text": {"field": "s"}}},
    {"data": {"name": "ann"}, "transform": [{"filter": "datum.p == 'C' && datum.s == 'x'"}], "mark": {"type": "text", "fontSize": 24, "baseline": "alphabetic", "dy": -3}, "encoding": {"text": {"field": "s"}}}
   ]
  },
  {"data": {"values": [{}]}, "mark": {"type": "text", "text": "C: Japanese anchovy", "fontSize": 26, "align": "left", "baseline": "alphabetic"}, "encoding": {"x": {"datum": 0.117, "axis": {"format": "~g"}}, "y": {"datum": 0.398}}}
 ]
},
{
 "width": 762, "height": 165,
 "layer": [
  {
   "encoding": {
    "x": {"field": "t", "type": "quantitative", "scale": {"domain": [0, 13.35], "nice": false}, "axis": {"values": [0, 5, 10], "format": "~g", "title": null}},
    "y": {"field": "v", "type": "quantitative", "scale": {"domain": [0, 0.612], "nice": false}, "axis": {"values": [0, 0.6], "format": "~g", "title": "intencity (10³ cps)"}}
   },
   "layer": [
    {"data": {"name": "D"}, "mark": {"type": "line"}},
    {"data": {"name": "ann"}, "transform": [{"filter": "datum.p == 'D' && datum.s == '*'"}], "mark": {"type": "text", "fontSize": 40, "fontWeight": "bold", "baseline": "alphabetic", "dy": 14}, "encoding": {"text": {"field": "s"}}},
    {"data": {"name": "ann"}, "transform": [{"filter": "datum.p == 'D' && datum.s == 'x'"}], "mark": {"type": "text", "fontSize": 24, "baseline": "alphabetic", "dy": -3}, "encoding": {"text": {"field": "s"}}}
   ]
  },
  {"data": {"values": [{}]}, "mark": {"type": "text", "text": "D: Japanese barracuda", "fontSize": 26, "align": "left", "baseline": "alphabetic"}, "encoding": {"x": {"datum": 0.117, "axis": {"format": "~g"}}, "y": {"datum": 0.587}}}
 ]
},
{
 "width": 762, "height": 166,
 "layer": [
  {
   "encoding": {
    "x": {"field": "t", "type": "quantitative", "scale": {"domain": [0, 13.35], "nice": false}, "axis": {"values": [0, 5, 10], "format": "~g", "title": "retention time (min)", "titleFontSize": 26, "titleX": 435, "titleY": 67, "titleBaseline": "alphabetic", "titleAlign": "center"}},
    "y": {"field": "v", "type": "quantitative", "scale": {"domain": [0, 1.0], "nice": false}, "axis": {"values": [0, 0.8], "format": "~g", "title": "intencity (10³ cps)"}}
   },
   "layer": [
    {"data": {"name": "E"}, "mark": {"type": "line"}},
    {"data": {"name": "ann"}, "transform": [{"filter": "datum.p == 'E' && datum.s == '*'"}], "mark": {"type": "text", "fontSize": 40, "fontWeight": "bold", "baseline": "alphabetic", "dy": 14}, "encoding": {"text": {"field": "s"}}},
    {"data": {"name": "ann"}, "transform": [{"filter": "datum.p == 'E' && datum.s == 'x'"}], "mark": {"type": "text", "fontSize": 24, "baseline": "alphabetic", "dy": -3}, "encoding": {"text": {"field": "s"}}}
   ]
  },
  {"data": {"values": [{}]}, "mark": {"type": "text", "text": "E: chum salmon", "fontSize": 26, "align": "left", "baseline": "alphabetic"}, "encoding": {"x": {"datum": 0.147, "axis": {"format": "~g"}}, "y": {"datum": 0.925}}}
 ]
}
],
"config": {
 "font": "Liberation Sans",
 "view": {"stroke": null},
 "axis": {"grid": false, "domainColor": "#000", "domainWidth": 2, "tickColor": "#000", "tickWidth": 2, "labelColor": "#000", "titleColor": "#000", "titleFontWeight": "normal", "labelFlush": false, "labelOverlap": false},
 "axisX": {"tickSize": 8, "labelFontSize": 21, "labelPadding": 2},
 "axisY": {"tickSize": 10, "labelFontSize": 22, "labelPadding": 1, "titleFontSize": 23, "titlePadding": 6},
 "line": {"strokeWidth": 1, "color": "#000"},
 "text": {"color": "#000"}
}
}
